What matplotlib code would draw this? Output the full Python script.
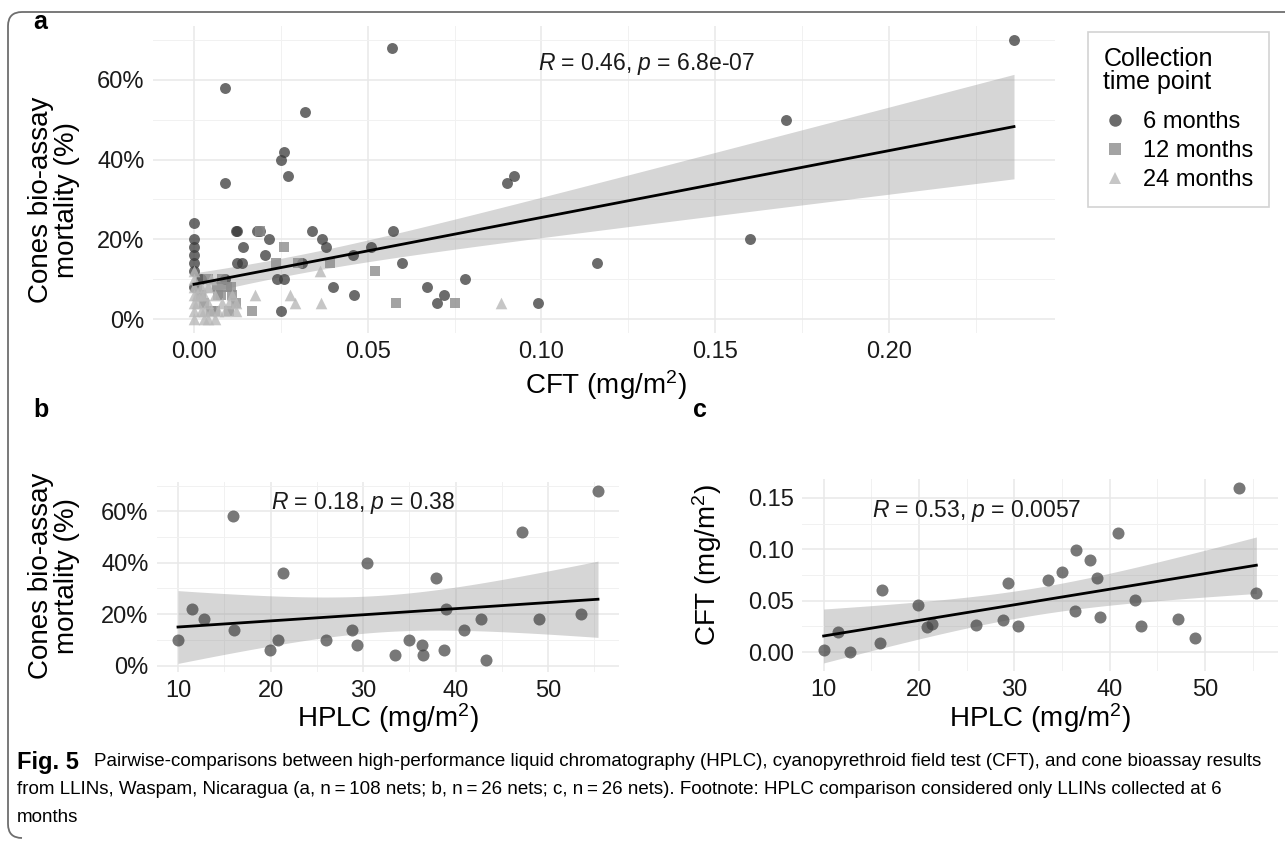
import numpy as np
import matplotlib
matplotlib.use("Agg")
import matplotlib.pyplot as plt
from matplotlib.path import Path
from matplotlib.patches import PathPatch
from matplotlib.lines import Line2D
from matplotlib.ticker import MultipleLocator, FuncFormatter

plt.rcParams['font.family'] = ['Liberation Sans', 'DejaVu Sans']
plt.rcParams['mathtext.fontset'] = 'custom'
plt.rcParams['mathtext.rm'] = 'Liberation Sans'
plt.rcParams['mathtext.it'] = 'Liberation Sans:italic'

# ---- data ----
# 26 nets collected at 6 months that also have HPLC values (panels b and c)
hplc = [10.0, 11.5, 12.8, 15.9, 16.1, 19.9, 20.8, 21.4, 26.0, 28.8, 29.3, 30.4, 33.5,
        35.0, 36.4, 36.5, 37.9, 38.7, 39.0, 40.9, 42.7, 43.3, 47.2, 49.0, 53.6, 55.4]
cft_hplc = [0.002, 0.019, 0.000, 0.009, 0.060, 0.046, 0.024, 0.027, 0.026, 0.031, 0.067, 0.025, 0.070,
            0.078, 0.040, 0.099, 0.090, 0.072, 0.034, 0.116, 0.051, 0.025, 0.032, 0.014, 0.160, 0.057]
mort_hplc = [10, 22, 18, 58, 14, 6, 10, 36, 10, 14, 8, 40, 4,
             10, 8, 4, 34, 6, 22, 14, 18, 2, 52, 18, 20, 68]

# other 6 month nets (panel a only)
cft_6m_other = [0.000, 0.000, 0.000, 0.000, 0.000, 0.000, 0.009, 0.026, 0.092, 0.012, 0.0125,
                0.018, 0.0217, 0.0204, 0.0125, 0.0138, 0.0367, 0.038, 0.0458, 0.0574, 0.1705,
                0.236, 0.009]
mort_6m_other = [24, 20, 16, 14, 12, 8, 34, 42, 36, 22, 22,
                 22, 20, 16, 14, 14, 20, 18, 16, 22, 50,
                 70, 10]

cft_12m = [0.019, 0.026, 0.0236, 0.030, 0.039, 0.052, 0.058, 0.075, 0.0167, 0.0077, 0.0106, 0.0065,
           0.0094, 0.007, 0.003, 0.005, 0.004, 0.008, 0.011, 0.002, 0.012, 0.006, 0.001, 0.010]
mort_12m = [22, 18, 14, 14, 14, 12, 4, 4, 2, 6, 8, 8,
            8, 6, 4, 2, 10, 10, 6, 6, 4, 2, 8, 2]

cft_24m = [0.000, 0.000, 0.000, 0.000, 0.000, 0.000, 0.000, 0.001, 0.002, 0.002, 0.003, 0.003,
           0.004, 0.004, 0.005, 0.005, 0.006, 0.007, 0.008, 0.009, 0.010, 0.011, 0.012, 0.012,
           0.004, 0.006, 0.0175, 0.0276, 0.029, 0.0365, 0.0362, 0.0883, 0.001, 0.003, 0.002]
mort_24m = [12, 10, 8, 6, 4, 2, 0, 4, 8, 2, 6, 0,
            0, 4, 10, 2, 6, 2, 4, 2, 4, 6, 2, 4,
            8, 0, 6, 6, 4, 4, 12, 4, 6, 2, 6]

groups = ["6 months", "12 months", "24 months"]
caption = ["Pairwise-comparisons between high-performance liquid chromatography (HPLC), "
           "cyanopyrethroid field test (CFT), and cone bioassay results",
           "from LLINs, Waspam, Nicaragua (a, n\u2009=\u2009108 nets; b, n\u2009=\u200926 nets; "
           "c, n\u2009=\u200926 nets). Footnote: HPLC comparison considered only LLINs collected at 6",
           "months"]

# ---- layout helpers (pixel coords of the 1285x850 picture) ----
W, H = 1285, 850
fig = plt.figure(figsize=(W / 100, H / 100), dpi=100)


def add_ax(left, top, right, bottom):
    return fig.add_axes([left / W, 1 - bottom / H, (right - left) / W, (bottom - top) / H])


def ftext(x, y, s, **kw):
    return fig.text(x / W, 1 - y / H, s, **kw)


def style(ax, xmaj, xmin, ymaj, ymin):
    for sp in ax.spines.values():
        sp.set_visible(False)
    ax.xaxis.set_major_locator(MultipleLocator(xmaj))
    ax.xaxis.set_minor_locator(MultipleLocator(xmin))
    ax.yaxis.set_major_locator(MultipleLocator(ymaj))
    ax.yaxis.set_minor_locator(MultipleLocator(ymin))
    ax.grid(which='major', color='#e8e8e8', lw=1.1)
    ax.grid(which='minor', color='#f1f1f1', lw=0.7)
    ax.tick_params(which='both', length=0, labelsize=17, colors='#1a1a1a', pad=6)
    ax.set_axisbelow(True)


def lm_fit(x, y, t):
    # straight line fit with 95% band for the mean (like geom_smooth(method = "lm"))
    x = np.asarray(x, float)
    y = np.asarray(y, float)
    n = len(x)
    b1, b0 = np.polyfit(x, y, 1)
    resid = y - (b0 + b1 * x)
    s = np.sqrt(np.sum(resid ** 2) / (n - 2))
    xs = np.linspace(x.min(), x.max(), 100)
    fit = b0 + b1 * xs
    se = s * np.sqrt(1 / n + (xs - x.mean()) ** 2 / np.sum((x - x.mean()) ** 2))
    return xs, fit, fit - t * se, fit + t * se


pct = FuncFormatter(lambda v, p: f"{v:.0f}%")
c6, c12, c24 = '#3a3a3a', '#8c8c8c', '#b8b8b8'

# ---- panel a ----
ax = add_ax(153, 26, 1055, 333)
style(ax, 0.05, 0.025, 20, 10)
cft_all = cft_hplc + cft_6m_other + cft_12m + cft_24m
mort_all = mort_hplc + mort_6m_other + mort_12m + mort_24m
xs, fit, lo, hi = lm_fit(cft_all, mort_all, 1.983)
ax.fill_between(xs, lo, hi, color='#999999', alpha=0.4, lw=0, zorder=2)
ax.scatter(cft_hplc + cft_6m_other, mort_hplc + mort_6m_other, s=62, marker='o',
           color=c6, alpha=0.75, lw=0, zorder=3)
ax.scatter(cft_12m, mort_12m, s=55, marker='s', color=c12, alpha=0.8, lw=0, zorder=3)
ax.scatter(cft_24m, mort_24m, s=70, marker='^', color=c24, alpha=0.8, lw=0, zorder=3)
ax.plot(xs, fit, color='black', lw=2.0, zorder=4)
ax.set_xlim(-0.0118, 0.2478)
ax.set_ylim(-3.5, 73.5)
ax.yaxis.set_major_formatter(pct)
ax.xaxis.set_major_formatter(FuncFormatter(lambda v, p: f"{v:.2f}"))
ax.text(0.099, 64, r"$R$ = 0.46, $p$ = 6.8e-07", fontsize=16.5, va='center', color='#1a1a1a')

handles = [Line2D([], [], marker=m, color=c, alpha=a, ls='', markersize=ms, markeredgewidth=0)
           for m, c, a, ms in [('o', c6, 0.75, 9), ('s', c12, 0.8, 8), ('^', c24, 0.8, 9)]]
leg = fig.legend(handles, groups, title="Collection\ntime point", loc='upper left',
                 bbox_to_anchor=(1088 / W, 1 - 32 / H), borderaxespad=0, fontsize=17,
                 title_fontsize=18, frameon=True, fancybox=False, edgecolor='#c8c8c8',
                 handlelength=1.0, handletextpad=0.7, labelspacing=0.3, borderpad=0.65)
leg._legend_box.align = "left"
leg._legend_box.sep = 12
leg.get_title().set_linespacing(0.95)
leg.get_frame().set_linewidth(1.2)

# ---- panel b ----
axb = add_ax(157, 482, 619, 672)
style(axb, 10, 5, 20, 10)
xs, fit, lo, hi = lm_fit(hplc, mort_hplc, 2.064)
axb.fill_between(xs, lo, hi, color='#999999', alpha=0.4, lw=0, zorder=2)
axb.scatter(hplc, mort_hplc, s=75, color='#444444', alpha=0.72, lw=0, zorder=3)
axb.plot(xs, fit, color='black', lw=2.0, zorder=4)
axb.set_xlim(7.73, 57.67)
axb.set_ylim(-2.5, 71.4)
axb.yaxis.set_major_formatter(pct)
axb.text(20.1, 63.1, r"$R$ = 0.18, $p$ = 0.38", fontsize=16.5, va='center', color='#1a1a1a')

# ---- panel c ----
axc = add_ax(802, 479, 1278, 671)
style(axc, 10, 5, 0.05, 0.025)
xs, fit, lo, hi = lm_fit(hplc, cft_hplc, 2.064)
axc.fill_between(xs, lo, hi, color='#999999', alpha=0.4, lw=0, zorder=2)
axc.scatter(hplc, cft_hplc, s=75, color='#444444', alpha=0.72, lw=0, zorder=3)
axc.plot(xs, fit, color='black', lw=2.0, zorder=4)
axc.set_xlim(7.73, 57.67)
axc.set_ylim(-0.0185, 0.1685)
axc.yaxis.set_major_formatter(FuncFormatter(lambda v, p: f"{v:.2f}"))
axc.text(15.05, 0.1374, r"$R$ = 0.53, $p$ = 0.0057", fontsize=16.5, va='center', color='#1a1a1a')

# ---- titles and panel letters ----
ftext(606, 385, r"CFT (mg/m$^2$)", fontsize=20, ha='center', va='center')
ftext(54, 200, "Cones bio-assay\nmortality (%)", fontsize=20, ha='center', va='center',
      rotation=90, linespacing=0.95)
ftext(388, 718, r"HPLC (mg/m$^2$)", fontsize=20, ha='center', va='center')
ftext(54, 576, "Cones bio-assay\nmortality (%)", fontsize=20, ha='center', va='center',
      rotation=90, linespacing=0.95)
ftext(1040, 718, r"HPLC (mg/m$^2$)", fontsize=20, ha='center', va='center')
ftext(707, 565, r"CFT (mg/m$^2$)", fontsize=20, ha='center', va='center', rotation=90)
ftext(33, 22, "a", fontsize=18, fontweight='bold', ha='left', va='center')
ftext(33, 410, "b", fontsize=18, fontweight='bold', ha='left', va='center')
ftext(693, 410, "c", fontsize=18, fontweight='bold', ha='left', va='center')

# ---- caption (sized so the first line runs to the right margin) ----
ftext(17, 762, "Fig. 5", fontsize=17, fontweight='bold', va='center')
renderer = fig.canvas.get_renderer()
t1 = ftext(94, 762, caption[0], fontsize=12, va='center')
scale = 1174 / t1.get_window_extent(renderer).width
cap_size = 12 * scale
t1.set_fontsize(cap_size)
ftext(17, 790, caption[1], fontsize=cap_size, va='center')
ftext(17, 818, caption[2], fontsize=cap_size, va='center')

# ---- rounded frame (left + top edge only, right side runs off the picture) ----
r = 14
verts = [(W + 5, 12), (8 + r, 12), (8, 12), (8, 12 + r), (8, 838 - r), (8, 838), (8 + r, 838)]
codes = [Path.MOVETO, Path.LINETO, Path.CURVE3, Path.CURVE3, Path.LINETO, Path.CURVE3, Path.CURVE3]
verts = [(x / W, 1 - y / H) for x, y in verts]
fig.patches.append(PathPatch(Path(verts, codes), transform=fig.transFigure, fill=False,
                             edgecolor='#6e6e6e', lw=1.3))

fig.savefig("out.png", dpi=100)
